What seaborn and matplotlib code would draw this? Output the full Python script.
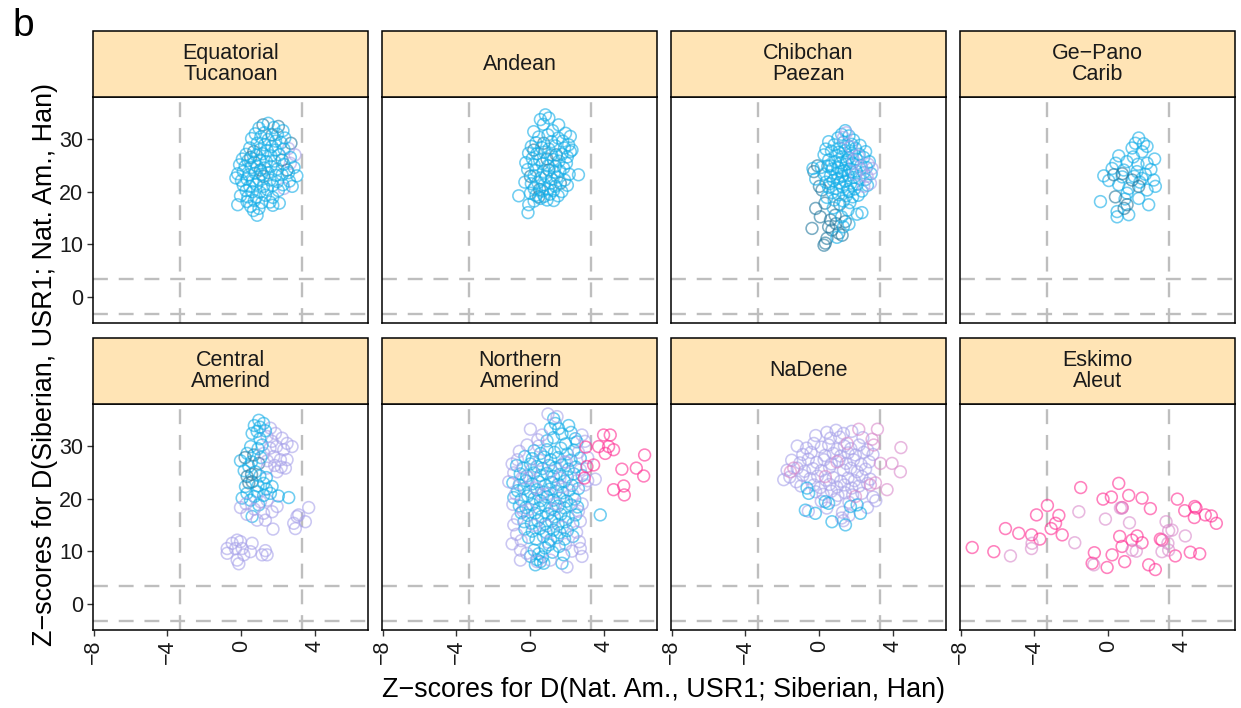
import matplotlib
matplotlib.use("Agg")
import matplotlib.pyplot as plt
import pandas as pd
import seaborn as sns
from matplotlib.patches import Rectangle

# Facet titles
GROUPS = ["Equatorial\nTucanoan", "Andean", "Chibchan\nPaezan", "Ge\u2212Pano\nCarib",
          "Central\nAmerind", "Northern\nAmerind", "NaDene", "Eskimo\nAleut"]

# Tone of each sample: T teal, B blue, L lavender, M mauve, P pink
TONES = ["B", "T", "L", "M", "P"]
TONE_COLORS = {"T": "#23789E", "B": "#12ADE8", "L": "#A8A2EA", "M": "#D98ACB", "P": "#FF2E93"}

X_TICKS = [-8, -4, 0, 4]
X_TICK_LABELS = ["\u22128", "\u22124", "0", "4"]
Y_TICKS = [0, 10, 20, 30]
THRESHOLD = 3.3

# (z for D(Nat.Am., USR1; Siberian, Han), z for D(Siberian, USR1; Nat.Am., Han), tone)
EQUATORIAL_TUCANOAN = [
    (1.17, 32.7, "T"), (2.0, 32.4, "T"), (1.66, 30.8, "T"), (2.68, 29.2, "T"), (0.67, 27.6, "T"),
    (2.2, 26.0, "T"), (2.47, 24.1, "T"), (1.03, 24.1, "T"), (1.2, 22.9, "T"), (0.5, 26.5, "T"),
    (2.9, 27.0, "L"), (2.65, 25.4, "L"), (2.3, 20.6, "L"), (2.55, 28.2, "L"),
    (1.45, 33.0, "B"), (0.95, 32.1, "B"), (1.75, 32.2, "B"), (2.25, 31.6, "B"), (0.75, 31.0, "B"),
    (1.25, 31.2, "B"), (1.95, 30.9, "B"), (2.35, 30.2, "B"), (0.55, 30.1, "B"), (1.05, 30.4, "B"),
    (1.45, 29.9, "B"), (1.85, 29.6, "B"), (2.15, 29.3, "B"), (0.85, 29.2, "B"), (1.25, 28.9, "B"),
    (1.65, 28.6, "B"), (0.45, 28.3, "B"), (1.0, 28.0, "B"), (1.4, 27.8, "B"), (1.85, 27.9, "B"),
    (2.3, 28.1, "B"), (0.25, 27.1, "B"), (0.8, 26.9, "B"), (1.15, 27.2, "B"), (1.6, 26.8, "B"),
    (2.05, 27.0, "B"), (2.65, 26.5, "B"), (0.05, 26.2, "B"), (0.35, 25.9, "B"), (0.7, 25.6, "B"),
    (1.0, 26.0, "B"), (1.35, 25.7, "B"), (1.8, 25.8, "B"), (2.3, 25.2, "B"), (-0.1, 25.1, "B"),
    (0.2, 24.8, "B"), (0.55, 24.6, "B"), (0.85, 24.9, "B"), (1.25, 24.5, "B"), (1.6, 24.8, "B"),
    (1.95, 24.3, "B"), (2.55, 23.6, "B"), (-0.2, 23.4, "B"), (0.1, 23.8, "B"), (0.4, 23.2, "B"),
    (0.75, 23.5, "B"), (1.1, 23.3, "B"), (1.45, 23.6, "B"), (1.85, 23.1, "B"), (2.2, 23.2, "B"),
    (-0.3, 22.6, "B"), (0.0, 22.1, "B"), (0.3, 22.4, "B"), (0.6, 22.0, "B"), (0.95, 22.3, "B"),
    (1.55, 22.2, "B"), (1.95, 21.9, "B"), (2.6, 22.0, "B"), (0.1, 21.2, "B"), (0.45, 21.0, "B"),
    (0.8, 21.4, "B"), (1.2, 21.0, "B"), (1.7, 21.2, "B"), (2.25, 21.3, "B"), (2.75, 21.0, "B"),
    (0.25, 20.2, "B"), (0.6, 20.0, "B"), (1.0, 19.9, "B"), (1.4, 20.4, "B"), (2.0, 20.2, "B"),
    (-0.05, 19.2, "B"), (0.35, 19.0, "B"), (0.8, 18.9, "B"), (1.3, 19.3, "B"), (1.7, 18.9, "B"),
    (0.3, 18.1, "B"), (0.7, 18.3, "B"), (1.1, 17.9, "B"), (1.55, 18.0, "B"), (-0.2, 17.5, "B"),
    (0.5, 17.2, "B"), (1.7, 17.4, "B"), (2.05, 17.8, "B"), (0.65, 16.4, "B"), (0.95, 16.8, "B"),
    (0.85, 15.5, "B"), (3.0, 23.0, "B"), (2.85, 24.6, "B"),
]

ANDEAN = [
    (0.72, 29.2, "T"), (1.4, 27.0, "T"), (0.0, 22.9, "T"), (0.5, 20.4, "T"), (1.62, 21.6, "T"),
    (0.18, 27.9, "T"), (1.0, 24.1, "T"), (0.45, 19.0, "T"), (0.9, 26.2, "T"),
    (0.81, 34.6, "B"), (0.54, 33.7, "B"), (1.0, 34.0, "B"), (0.7, 32.8, "B"), (1.53, 32.7, "B"),
    (0.18, 31.4, "B"), (1.2, 31.6, "B"), (1.9, 31.1, "B"), (2.16, 30.5, "B"), (0.45, 30.4, "B"),
    (0.95, 30.8, "B"), (1.5, 30.2, "B"), (1.75, 29.6, "B"), (2.07, 28.9, "B"), (0.3, 29.3, "B"),
    (1.15, 29.5, "B"), (0.05, 28.6, "B"), (0.6, 28.4, "B"), (1.0, 28.1, "B"), (1.35, 28.7, "B"),
    (1.85, 28.3, "B"), (2.25, 27.9, "B"), (2.16, 27.6, "B"), (-0.1, 27.3, "B"), (0.35, 27.2, "B"),
    (0.75, 27.5, "B"), (1.15, 27.0, "B"), (1.7, 27.1, "B"), (2.0, 26.6, "B"), (0.1, 26.3, "B"),
    (0.5, 26.0, "B"), (1.25, 26.1, "B"), (1.55, 25.8, "B"), (1.95, 25.4, "B"), (-0.25, 25.5, "B"),
    (0.2, 25.1, "B"), (0.65, 25.3, "B"), (0.95, 24.9, "B"), (1.35, 24.8, "B"), (1.8, 24.5, "B"),
    (-0.15, 24.2, "B"), (0.3, 24.0, "B"), (0.7, 23.8, "B"), (1.3, 23.7, "B"), (1.6, 23.9, "B"),
    (2.1, 23.3, "B"), (2.6, 23.2, "B"), (0.2, 23.0, "B"), (0.55, 22.6, "B"), (0.85, 22.9, "B"),
    (1.15, 22.4, "B"), (1.45, 22.8, "B"), (1.85, 22.2, "B"), (-0.3, 21.8, "B"), (0.05, 21.5, "B"),
    (0.4, 21.7, "B"), (0.75, 21.3, "B"), (1.1, 21.6, "B"), (1.35, 21.0, "B"), (2.0, 21.2, "B"),
    (0.2, 20.6, "B"), (0.65, 20.1, "B"), (0.95, 20.5, "B"), (1.25, 20.2, "B"), (1.7, 20.0, "B"),
    (0.0, 19.7, "B"), (0.3, 19.3, "B"), (0.75, 19.1, "B"), (1.05, 19.5, "B"), (1.5, 19.2, "B"),
    (-0.63, 19.2, "B"), (0.54, 18.7, "B"), (0.9, 18.4, "B"), (1.26, 18.3, "B"), (0.2, 18.2, "B"),
    (-0.09, 17.5, "B"), (-0.13, 16.0, "B"),
]

CHIBCHAN_PAEZAN = [
    (-0.4, 13.0, "T"), (0.32, 10.2, "T"), (0.68, 12.7, "T"), (0.05, 15.2, "T"), (-0.2, 16.8, "T"),
    (1.05, 12.1, "T"), (1.23, 11.7, "T"), (1.4, 14.3, "T"), (0.41, 11.1, "T"), (0.6, 14.6, "T"),
    (0.14, 20.3, "T"), (-0.3, 23.8, "T"), (0.0, 21.0, "T"), (0.25, 9.8, "T"), (0.85, 15.5, "T"),
    (0.3, 17.8, "T"), (-0.1, 24.9, "T"), (0.5, 13.3, "T"), (1.1, 17.6, "T"), (0.9, 13.9, "T"),
    (1.4, 31.6, "B"), (1.2, 30.9, "B"), (1.6, 30.6, "B"), (1.0, 30.2, "B"), (1.85, 29.8, "B"),
    (0.5, 29.5, "B"), (1.3, 29.4, "B"), (2.2, 28.8, "B"), (0.8, 28.9, "B"), (1.55, 28.7, "B"),
    (1.95, 28.2, "B"), (0.35, 28.1, "B"), (1.1, 28.3, "B"), (2.5, 27.6, "B"), (0.65, 27.7, "B"),
    (1.4, 27.8, "B"), (1.75, 27.3, "B"), (2.15, 27.1, "B"), (0.25, 27.0, "B"), (0.95, 26.9, "B"),
    (1.25, 26.6, "B"), (1.6, 26.4, "B"), (2.0, 26.2, "B"), (2.4, 26.5, "B"), (2.7, 25.7, "B"),
    (0.5, 26.0, "B"), (0.85, 25.7, "B"), (1.15, 25.5, "B"), (1.45, 25.2, "B"), (1.8, 25.4, "B"),
    (2.25, 25.0, "B"), (2.55, 24.6, "B"), (-0.35, 24.4, "B"), (0.1, 24.6, "B"), (0.45, 24.8, "B"),
    (0.7, 24.3, "B"), (1.0, 24.5, "B"), (1.35, 24.0, "B"), (1.65, 24.3, "B"), (2.0, 23.9, "B"),
    (2.4, 23.6, "B"), (2.8, 23.4, "B"), (0.25, 23.3, "B"), (0.6, 23.0, "B"), (0.95, 23.4, "B"),
    (1.25, 22.9, "B"), (1.55, 23.1, "B"), (1.85, 22.7, "B"), (2.15, 22.5, "B"), (2.5, 22.3, "B"),
    (-0.2, 22.4, "B"), (0.35, 21.8, "B"), (0.75, 22.1, "B"), (1.1, 21.7, "B"), (1.4, 22.0, "B"),
    (1.7, 21.6, "B"), (2.05, 21.4, "B"), (2.6, 21.2, "B"), (0.5, 20.8, "B"), (0.9, 20.6, "B"),
    (1.25, 20.9, "B"), (1.55, 20.4, "B"), (1.9, 20.5, "B"), (2.3, 20.1, "B"), (0.7, 19.8, "B"),
    (1.05, 19.4, "B"), (1.45, 19.2, "B"), (1.8, 19.0, "B"), (2.1, 19.3, "B"), (0.4, 18.9, "B"),
    (1.3, 18.2, "B"), (1.65, 17.9, "B"), (0.8, 18.4, "B"), (2.3, 16.0, "B"), (2.04, 15.7, "B"),
    (1.55, 16.5, "B"), (1.2, 15.2, "B"), (0.75, 16.9, "B"), (1.6, 13.8, "B"), (1.3, 13.3, "B"),
    (0.95, 11.3, "B"), (1.75, 29.0, "B"), (1.05, 27.5, "B"), (1.5, 26.0, "B"), (0.6, 24.9, "B"),
    (1.2, 23.8, "B"), (1.75, 23.7, "B"), (1.0, 22.5, "B"), (0.55, 21.5, "B"), (1.6, 20.0, "B"),
    (2.76, 21.6, "L"), (2.85, 24.4, "L"), (1.45, 31.2, "L"), (2.58, 22.9, "L"), (2.3, 24.2, "L"),
    (1.95, 23.3, "L"), (2.1, 26.8, "L"), (1.7, 28.5, "L"), (2.4, 21.0, "L"), (1.3, 30.3, "L"),
    (2.65, 25.2, "L"), (1.85, 25.9, "L"),
]

GE_PANO_CARIB = [
    (1.64, 30.2, "B"), (1.46, 29.2, "B"), (2.09, 28.6, "B"), (1.28, 28.3, "B"), (1.82, 27.6, "B"),
    (0.56, 26.8, "B"), (2.5, 26.2, "B"), (1.0, 25.7, "B"), (2.09, 25.4, "B"), (0.2, 24.4, "B"),
    (0.83, 24.1, "B"), (1.55, 23.8, "B"), (-0.25, 23.0, "B"), (1.82, 22.5, "B"), (2.45, 22.2, "B"),
    (0.02, 22.1, "B"), (2.54, 21.0, "B"), (0.56, 21.3, "B"), (1.1, 20.6, "B"), (2.09, 20.3, "B"),
    (1.01, 19.7, "B"), (-0.43, 18.1, "B"), (1.64, 18.7, "B"), (2.18, 17.5, "B"), (0.47, 16.2, "B"),
    (1.1, 15.6, "B"), (0.47, 15.2, "B"), (1.9, 29.1, "B"), (2.0, 23.3, "B"), (1.35, 26.6, "B"),
    (0.4, 25.4, "B"), (1.7, 21.8, "B"), (0.75, 22.8, "B"), (2.3, 24.2, "B"), (1.4, 22.9, "B"),
    (0.9, 18.6, "B"), (1.6, 25.2, "B"),
    (0.29, 23.2, "T"), (0.38, 19.0, "T"), (1.28, 22.2, "T"), (1.64, 21.0, "T"), (0.75, 23.4, "T"),
    (1.01, 17.5, "T"), (0.85, 16.8, "T"),
]

CENTRAL_AMERIND = [
    (0.94, 34.9, "B"), (1.2, 34.3, "B"), (1.57, 33.4, "L"), (0.85, 32.8, "B"), (1.84, 32.4, "L"),
    (2.2, 31.5, "L"), (2.47, 30.5, "L"), (2.74, 29.9, "L"), (0.58, 32.4, "B"), (1.39, 31.8, "L"),
    (1.66, 30.9, "L"), (1.12, 30.2, "B"), (2.29, 29.3, "L"), (0.31, 28.6, "B"), (0.67, 28.3, "T"),
    (1.21, 28.6, "L"), (-0.05, 27.2, "B"), (1.75, 28.0, "L"), (2.11, 27.4, "L"), (2.47, 27.4, "L"),
    (0.94, 26.7, "T"), (0.4, 26.1, "B"), (1.39, 25.8, "L"), (2.38, 25.8, "L"), (1.93, 25.1, "L"),
    (0.76, 25.1, "B"), (0.31, 24.2, "T"), (0.58, 23.2, "T"), (1.21, 22.9, "B"), (1.66, 22.3, "B"),
    (1.57, 21.0, "B"), (0.22, 22.3, "B"), (0.85, 21.3, "B"), (0.04, 20.1, "B"), (0.49, 19.7, "B"),
    (1.03, 19.4, "L"), (1.39, 19.7, "L"), (1.93, 18.5, "L"), (2.56, 20.2, "B"), (-0.05, 18.3, "L"),
    (0.94, 18.8, "B"), (1.66, 17.5, "L"), (0.58, 16.6, "B"), (0.85, 15.9, "L"), (1.3, 15.9, "L"),
    (1.71, 14.2, "L"), (1.0, 33.6, "B"), (0.7, 33.9, "B"), (1.3, 32.9, "B"), (1.0, 31.4, "B"),
    (1.55, 29.6, "L"), (1.9, 29.9, "L"), (0.5, 29.9, "B"), (0.9, 29.5, "B"), (0.2, 27.8, "T"),
    (0.55, 27.0, "B"), (1.05, 27.8, "B"), (1.4, 27.2, "L"), (1.8, 26.3, "L"), (2.15, 26.0, "L"),
    (0.15, 25.3, "B"), (0.55, 24.6, "T"), (1.0, 24.3, "B"), (1.35, 24.0, "B"), (0.4, 23.0, "T"),
    (0.9, 22.4, "B"), (1.35, 21.8, "B"), (0.3, 21.0, "B"), (0.7, 20.4, "B"), (1.2, 20.6, "B"),
    (0.25, 19.0, "L"), (0.7, 18.0, "L"), (1.2, 17.2, "L"), (0.3, 17.0, "L"), (2.0, 20.5, "B"),
    (3.64, 18.3, "L"), (3.01, 16.6, "L"), (2.83, 15.3, "L"), (3.46, 15.6, "L"), (2.92, 14.3, "L"),
    (3.1, 16.9, "L"),
    (-0.77, 10.5, "L"), (-0.77, 9.6, "L"), (-0.5, 11.5, "L"), (-0.23, 12.1, "L"), (-0.05, 11.8, "L"),
    (-0.32, 10.5, "L"), (0.04, 10.5, "L"), (0.58, 11.5, "L"), (0.49, 9.9, "L"), (-0.23, 8.3, "L"),
    (-0.14, 7.6, "L"), (1.12, 9.3, "L"), (1.3, 10.1, "L"), (1.39, 9.3, "L"), (0.13, 9.3, "L"),
]

NORTHERN_AMERIND = [
    (1.26, 35.2, "B"), (1.35, 34.3, "B"), (1.53, 33.3, "B"), (1.08, 33.3, "B"), (2.07, 33.9, "B"),
    (0.95, 36.1, "L"), (1.44, 35.6, "L"), (0.0, 33.2, "L"),
    (1.71, 32.3, "B"), (2.43, 31.4, "B"), (2.52, 30.8, "B"), (1.25, 31.6, "B"), (0.9, 31.0, "B"),
    (1.9, 30.4, "B"), (2.2, 32.6, "B"),
    (0.63, 32.1, "L"), (-0.18, 30.2, "L"), (2.79, 32.1, "L"), (0.4, 31.2, "L"), (2.95, 30.9, "L"),
    (0.2, 29.1, "B"), (0.55, 28.6, "B"), (0.9, 29.3, "B"), (1.3, 28.8, "B"), (1.65, 29.6, "B"),
    (2.0, 28.5, "B"), (2.35, 29.2, "B"), (-0.3, 28.0, "B"), (0.1, 27.6, "B"), (0.75, 27.9, "B"),
    (1.1, 27.4, "B"), (1.5, 27.8, "B"), (2.2, 27.3, "B"), (2.7, 27.7, "B"),
    (-0.6, 29.0, "L"), (0.45, 30.0, "L"), (1.85, 27.0, "L"), (2.6, 28.8, "L"), (3.1, 27.8, "L"),
    (-0.7, 27.4, "L"),
    (-0.75, 26.3, "B"), (-0.4, 25.8, "B"), (0.0, 26.6, "B"), (0.35, 26.1, "B"), (0.65, 25.7, "B"),
    (1.0, 26.3, "B"), (1.35, 25.9, "B"), (1.7, 26.4, "B"), (2.05, 25.6, "B"), (2.45, 26.0, "B"),
    (-0.55, 24.7, "B"), (-0.2, 24.3, "B"), (0.2, 24.9, "B"), (0.55, 24.4, "B"), (0.9, 24.8, "B"),
    (1.25, 24.2, "B"), (1.6, 24.6, "B"), (2.0, 24.1, "B"), (2.35, 24.7, "B"), (2.8, 24.4, "B"),
    (-0.99, 26.6, "L"), (-0.9, 24.9, "L"), (1.15, 25.2, "L"), (2.7, 25.5, "L"), (3.51, 23.7, "L"),
    (0.05, 25.4, "L"), (1.95, 26.9, "L"),
    (-0.95, 23.0, "B"), (-0.6, 22.6, "B"), (-0.25, 23.4, "B"), (0.1, 22.8, "B"), (0.45, 23.2, "B"),
    (0.8, 22.5, "B"), (1.15, 23.1, "B"), (1.5, 22.7, "B"), (1.85, 23.3, "B"), (2.25, 22.5, "B"),
    (-0.7, 21.5, "B"), (-0.35, 21.9, "B"), (0.0, 21.3, "B"), (0.35, 21.7, "B"), (0.7, 21.2, "B"),
    (1.05, 21.8, "B"), (1.4, 21.4, "B"), (1.75, 21.1, "B"), (2.1, 21.6, "B"), (2.6, 21.9, "B"),
    (-1.17, 23.2, "L"), (1.6, 23.9, "L"), (2.5, 23.4, "L"), (-0.05, 24.0, "L"), (0.95, 20.9, "L"),
    (2.3, 20.7, "L"), (2.95, 22.6, "L"),
    (-0.9, 20.2, "B"), (-0.5, 19.8, "B"), (-0.15, 20.5, "B"), (0.2, 20.0, "B"), (0.55, 19.6, "B"),
    (0.9, 20.3, "B"), (1.25, 19.7, "B"), (1.6, 20.1, "B"), (1.95, 19.5, "B"), (2.4, 19.9, "B"),
    (-0.6, 18.6, "B"), (-0.25, 18.3, "B"), (0.1, 18.9, "B"), (0.45, 18.2, "B"), (0.8, 18.7, "B"),
    (1.15, 18.1, "B"), (1.5, 18.6, "B"), (1.85, 18.2, "B"), (2.2, 18.8, "B"), (2.55, 18.4, "B"),
    (-0.95, 18.9, "L"), (0.6, 20.8, "L"), (2.8, 19.0, "L"), (1.3, 17.9, "L"), (-0.4, 17.6, "L"),
    (-0.5, 17.3, "B"), (-0.15, 16.8, "B"), (0.25, 17.2, "B"), (0.6, 16.6, "B"), (0.95, 17.1, "B"),
    (1.3, 16.5, "B"), (1.65, 17.0, "B"), (2.05, 16.4, "B"), (2.45, 16.9, "B"), (-0.35, 15.6, "B"),
    (0.05, 15.3, "B"), (0.4, 15.8, "B"), (0.8, 15.2, "B"), (1.15, 15.7, "B"), (1.5, 15.1, "B"),
    (1.9, 15.6, "B"), (2.3, 15.2, "B"), (3.78, 16.9, "B"),
    (-0.9, 15.0, "L"), (-0.7, 16.2, "L"), (0.9, 14.8, "L"), (2.7, 15.7, "L"), (1.75, 14.6, "L"),
    (-0.3, 14.2, "B"), (0.1, 13.8, "B"), (0.5, 14.3, "B"), (0.85, 13.6, "B"), (1.25, 14.0, "B"),
    (1.6, 13.5, "B"), (2.0, 13.9, "B"), (-0.1, 12.6, "B"), (0.3, 12.3, "B"), (0.7, 12.8, "B"),
    (1.1, 12.2, "B"), (1.45, 12.6, "B"), (1.85, 12.3, "B"), (2.3, 12.8, "B"),
    (-0.75, 13.2, "L"), (-0.5, 12.0, "L"), (2.5, 13.6, "L"), (2.65, 11.8, "L"), (0.95, 11.7, "L"),
    (0.0, 9.0, "B"), (0.27, 7.4, "B"), (0.54, 8.0, "B"), (0.72, 7.7, "B"), (1.71, 7.7, "B"),
    (1.8, 9.3, "B"), (0.2, 10.2, "B"), (0.45, 9.5, "B"), (0.8, 10.6, "B"), (1.2, 9.8, "B"),
    (1.55, 10.9, "B"), (0.65, 8.9, "B"), (1.0, 11.2, "B"), (0.35, 8.4, "B"),
    (-0.99, 11.4, "L"), (-0.54, 10.2, "L"), (-0.54, 8.3, "L"), (1.98, 7.0, "L"), (2.79, 9.0, "L"),
    (2.7, 10.5, "L"), (0.36, 8.0, "L"), (1.08, 8.3, "L"), (-0.2, 9.6, "L"), (2.25, 10.0, "L"),
    (-0.45, 23.9, "L"), (0.3, 22.0, "L"), (1.7, 22.2, "L"), (-0.8, 20.9, "L"), (1.4, 19.0, "L"),
    (-0.1, 17.9, "L"), (2.6, 17.6, "L"), (0.2, 14.9, "L"), (1.9, 11.3, "L"), (0.5, 27.3, "L"),
    (3.0, 29.8, "P"), (3.1, 23.4, "L"),
    (3.96, 32.1, "P"), (4.32, 32.1, "P"), (3.69, 29.9, "P"), (4.23, 29.9, "P"), (4.5, 29.3, "P"),
    (4.05, 28.6, "P"), (6.18, 28.3, "P"), (3.42, 26.4, "P"), (3.06, 26.1, "P"), (4.95, 25.6, "P"),
    (5.73, 25.8, "P"), (6.13, 24.3, "P"), (2.92, 23.9, "P"), (5.05, 22.4, "P"), (4.5, 21.7, "P"),
    (5.08, 20.7, "P"),
]

NADENE = [
    (0.4, 32.6, "L"), (0.9, 33.0, "L"), (1.3, 32.4, "L"), (1.75, 32.8, "L"), (-0.2, 32.0, "L"),
    (0.6, 31.5, "L"), (1.1, 31.7, "L"), (2.35, 31.6, "L"),
    (-1.2, 30.0, "L"), (-0.7, 29.6, "L"), (-0.3, 30.5, "L"), (0.1, 29.8, "L"), (0.5, 30.2, "L"),
    (0.95, 29.4, "L"), (1.35, 30.0, "L"), (1.7, 29.5, "L"), (2.15, 30.2, "L"), (2.6, 29.3, "L"),
    (-0.9, 28.4, "L"), (-0.45, 28.8, "L"), (0.3, 28.2, "L"), (0.75, 28.6, "L"), (1.15, 28.1, "L"),
    (1.55, 28.7, "L"), (1.95, 28.3, "L"), (2.4, 28.8, "L"), (2.9, 28.4, "L"),
    (-1.5, 27.3, "L"), (-1.05, 26.8, "L"), (-0.6, 27.5, "L"), (-0.15, 26.9, "L"), (0.25, 27.4, "L"),
    (0.65, 26.6, "L"), (1.05, 27.2, "L"), (1.45, 26.7, "L"), (1.85, 27.4, "L"), (2.25, 26.5, "L"),
    (2.7, 27.0, "L"), (-1.75, 25.4, "L"), (-1.2, 25.8, "L"), (-0.8, 25.2, "L"), (-0.35, 25.7, "L"),
    (0.1, 25.3, "L"), (0.55, 25.9, "L"), (1.3, 25.4, "L"), (1.7, 25.8, "L"), (2.05, 25.1, "L"),
    (2.5, 25.6, "L"),
    (-1.93, 23.6, "L"), (-1.6, 24.1, "L"), (-1.25, 23.2, "L"), (-0.9, 24.4, "L"), (-0.5, 23.8, "L"),
    (-0.1, 24.3, "L"), (0.35, 23.5, "L"), (0.75, 24.0, "L"), (1.15, 23.3, "L"), (1.55, 23.9, "L"),
    (1.9, 23.4, "L"), (2.3, 24.2, "L"), (2.75, 23.7, "L"), (-1.0, 22.4, "L"), (-0.3, 22.6, "L"),
    (0.05, 22.1, "L"), (0.55, 22.7, "L"), (0.95, 22.2, "L"), (1.35, 22.6, "L"), (1.75, 22.0, "L"),
    (2.15, 22.4, "L"), (2.6, 22.9, "L"),
    (-0.2, 21.3, "L"), (0.2, 20.8, "L"), (0.65, 21.4, "L"), (1.0, 20.6, "L"), (1.4, 21.1, "L"),
    (1.8, 20.7, "L"), (2.3, 21.0, "L"), (2.9, 20.3, "L"), (0.1, 19.5, "L"), (0.85, 19.8, "L"),
    (1.6, 19.3, "L"), (3.05, 19.6, "L"), (-0.6, 17.6, "L"), (0.4, 18.2, "L"), (1.25, 17.4, "L"),
    (1.2, 16.3, "L"), (1.6, 16.8, "L"), (1.3, 15.8, "L"), (2.6, 18.3, "L"),
    (-0.67, 22.0, "B"), (-0.58, 21.0, "B"), (-0.22, 17.2, "B"), (-0.76, 17.8, "B"), (0.68, 15.6, "B"),
    (1.41, 15.0, "B"), (2.22, 17.2, "B"), (1.68, 18.5, "B"), (0.32, 19.4, "B"), (0.5, 19.1, "B"),
    (2.04, 18.8, "B"),
    (2.13, 33.2, "M"), (3.14, 33.2, "M"), (2.85, 31.3, "M"), (2.94, 30.2, "M"), (4.41, 29.7, "M"),
    (3.93, 26.7, "M"), (4.38, 25.1, "M"), (3.66, 21.7, "M"), (3.3, 26.7, "M"), (2.76, 22.6, "M"),
    (3.03, 23.0, "M"), (0.95, 27.0, "M"), (0.32, 24.2, "M"), (-1.57, 25.1, "M"), (-1.39, 25.8, "M"),
    (1.5, 30.5, "M"), (1.95, 20.4, "M"),
]

ESKIMO_ALEUT = [
    (-7.37, 10.7, "P"), (-6.2, 9.9, "P"), (-5.57, 14.3, "P"), (-4.85, 13.4, "P"), (-4.16, 13.1, "P"),
    (-3.71, 12.3, "P"), (-3.89, 16.9, "P"), (-3.3, 18.7, "P"), (-2.68, 16.8, "P"), (-2.86, 15.3, "P"),
    (-3.1, 14.3, "P"), (-2.5, 13.1, "P"), (-1.5, 22.1, "P"), (-0.29, 19.9, "P"), (0.16, 20.3, "P"),
    (0.56, 22.9, "P"), (1.1, 20.6, "P"), (1.82, 20.1, "P"), (2.27, 18.1, "P"), (0.74, 18.3, "P"),
    (0.61, 12.8, "P"), (1.28, 12.1, "P"), (1.55, 12.9, "P"), (1.82, 11.6, "P"), (0.74, 10.9, "P"),
    (0.88, 8.0, "P"), (0.2, 9.3, "P"), (2.81, 12.3, "P"), (2.9, 12.1, "P"), (2.54, 6.5, "P"),
    (2.18, 7.4, "P"), (3.73, 19.9, "P"), (4.13, 17.7, "P"), (4.67, 18.5, "P"), (4.74, 18.2, "P"),
    (4.65, 16.4, "P"), (5.24, 16.9, "P"), (5.57, 16.7, "P"), (5.84, 15.3, "P"), (3.62, 9.1, "P"),
    (4.43, 9.8, "P"), (4.94, 9.5, "P"), (-0.76, 9.7, "P"), (-0.07, 6.9, "P"), (-0.88, 7.7, "P"),
    (-5.3, 9.1, "M"), (-4.13, 11.5, "M"), (-4.16, 10.5, "M"), (-1.6, 17.5, "M"), (-1.82, 11.6, "M"),
    (-0.16, 16.1, "M"), (0.74, 18.2, "M"), (1.14, 15.4, "M"), (1.28, 10.2, "M"), (1.51, 10.0, "M"),
    (-0.79, 7.4, "M"), (3.12, 15.6, "M"), (3.44, 14.0, "M"), (3.26, 13.9, "M"), (4.16, 12.9, "M"),
    (2.9, 9.9, "M"), (3.22, 11.5, "M"), (3.26, 10.2, "M"), (0.65, 18.2, "M"),
]

PANELS = [EQUATORIAL_TUCANOAN, ANDEAN, CHIBCHAN_PAEZAN, GE_PANO_CARIB,
          CENTRAL_AMERIND, NORTHERN_AMERIND, NADENE, ESKIMO_ALEUT]

records = []
for group, points in zip(GROUPS, PANELS):
    for zx, zy, tone in points:
        records.append({"group": group, "zx": zx, "zy": zy, "tone": tone})
df = pd.DataFrame(records)

sns.set_theme(style="ticks")
plt.rcParams["font.family"] = ["Liberation Sans", "DejaVu Sans"]
plt.rcParams["axes.edgecolor"] = "black"

W, H = 1241, 708
g = sns.FacetGrid(df, col="group", col_order=GROUPS, col_wrap=4, sharex=True, sharey=True,
                  height=2.5, aspect=1.2, despine=False)
g.map_dataframe(sns.scatterplot, x="zx", y="zy", hue="tone", hue_order=TONES,
                palette=TONE_COLORS, s=72, linewidth=1.15, alpha=0.6, legend=False, zorder=3)
g.set_titles(template="")
g.set_axis_labels("", "")

fig = g.figure
fig.set_size_inches(W / 100, H / 100)

lefts = [93, 382, 671, 960]
tops = [97, 404]
pw, ph, strip_h = 275, 226, 66

for i, (ax, group) in enumerate(zip(g.axes.flat, GROUPS)):
    r, c = divmod(i, 4)
    ax.set_position([lefts[c] / W, 1 - (tops[r] + ph) / H, pw / W, ph / H])

    # hollow rings: move the fill colour to the edge
    for coll in ax.collections:
        fc = coll.get_facecolors()
        coll.set_edgecolors(fc)
        coll.set_facecolors("none")

    for v in (-THRESHOLD, THRESHOLD):
        ax.axvline(v, color="#BEBEBE", lw=1.7, dashes=(6.3, 4.6), zorder=1)
        ax.axhline(v, color="#BEBEBE", lw=1.7, dashes=(6.3, 4.6), zorder=1)

    ax.set_xlim(-8.03, 6.85)
    ax.set_ylim(-5.0, 38.0)
    ax.set_xticks(X_TICKS)
    ax.set_yticks(Y_TICKS)
    for sp in ax.spines.values():
        sp.set_color("black")
        sp.set_linewidth(1.1)
    ax.tick_params(direction="out", length=4, width=1.0, color="#333333",
                   labelsize=15.5, labelcolor="#1a1a1a", pad=3)
    if r == 1:
        ax.set_xticklabels(X_TICK_LABELS, rotation=90)
        ax.tick_params(axis="x", labelbottom=True)
    else:
        ax.tick_params(axis="x", bottom=False, labelbottom=False)
    if c > 0:
        ax.tick_params(axis="y", left=False, labelleft=False)
    else:
        ax.set_yticklabels([str(t) for t in Y_TICKS])

    sh = strip_h / ph
    ax.add_patch(Rectangle((0, 1), 1, sh, transform=ax.transAxes, facecolor="#FFE4B5",
                           edgecolor="black", lw=1.1, clip_on=False, zorder=5))
    ax.text(0.5, 1 + sh / 2, group, transform=ax.transAxes, ha="center", va="center",
            fontsize=15.5, color="#1a1a1a", linespacing=0.95, zorder=6)

fig.text(45 / W, 1 - 365 / H, "Z\u2212scores for D(Siberian, USR1; Nat. Am., Han)",
         rotation=90, ha="center", va="center", fontsize=19.4, color="black")
fig.text(663 / W, 1 - 690 / H, "Z\u2212scores for D(Nat. Am., USR1; Siberian, Han)",
         ha="center", va="center", fontsize=19.4, color="black")
fig.text(12 / W, 1 - 8 / H, "b", ha="left", va="top", fontsize=28, color="black")

fig.savefig("out.png", dpi=100)
